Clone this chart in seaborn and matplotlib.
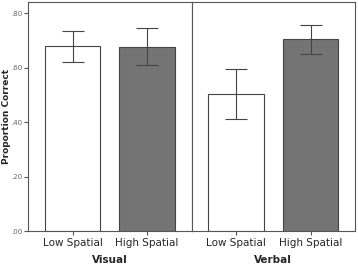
import numpy as np
import pandas as pd
import matplotlib.pyplot as plt
import seaborn as sns

groups = ['Visual', 'Verbal']
levels = ['Low Spatial', 'High Spatial']
means = {'Visual': [0.678, 0.677], 'Verbal': [0.502, 0.703]}
err_low = {'Visual': [0.621, 0.609], 'Verbal': [0.411, 0.650]}
err_high = {'Visual': [0.735, 0.745], 'Verbal': [0.593, 0.757]}
yticks = [0.0, 0.2, 0.4, 0.6, 0.8]
ytick_labels = ['.00', '.20', '.40', '.60', '.80']

sns.set_style('white')
plt.rcParams['font.family'] = ['DejaVu Sans']

fig, axes = plt.subplots(1, 2, figsize=(3.58, 2.65), dpi=100, sharey=True)
fig.subplots_adjust(left=0.078, right=0.992, top=0.992, bottom=0.128, wspace=0)

line_col = '#555555'
for ax, g in zip(axes, groups):
    df = pd.DataFrame({'level': levels, 'value': means[g]})
    sns.barplot(data=df, x='level', y='value', hue='level', order=levels,
                palette=['white', '#747474'], width=0.75, edgecolor='#444444',
                linewidth=0.8, legend=False, ax=ax)
    lo = np.array(err_low[g])
    hi = np.array(err_high[g])
    m = np.array(means[g])
    ax.errorbar(range(len(levels)), m, yerr=[m - lo, hi - m], fmt='none',
                ecolor='#444444', elinewidth=0.8, capsize=8, capthick=0.8)
    ax.set_xlim(-0.6, 1.6)
    ax.set_ylim(0, 0.84)
    ax.set_xlabel(g, fontsize=7.5, fontweight='bold', labelpad=5)
    ax.set_ylabel('')
    ax.tick_params(axis='x', length=3, width=0.8, color=line_col,
                   labelsize=7.5, pad=2, direction='out', bottom=True)
    for s in ax.spines.values():
        s.set_color(line_col)
        s.set_linewidth(0.8)

axes[0].set_yticks(yticks)
axes[0].set_yticklabels(ytick_labels)
axes[0].tick_params(axis='y', length=3, width=0.8, color=line_col,
                    labelsize=5, labelcolor='#666666', pad=1, left=True,
                    direction='out')
axes[1].tick_params(axis='y', left=False)
axes[0].set_ylabel('Proportion Correct', fontsize=6.5, fontweight='bold')
axes[0].yaxis.set_label_coords(-0.105, 0.5)

fig.savefig('out.png', dpi=100)
